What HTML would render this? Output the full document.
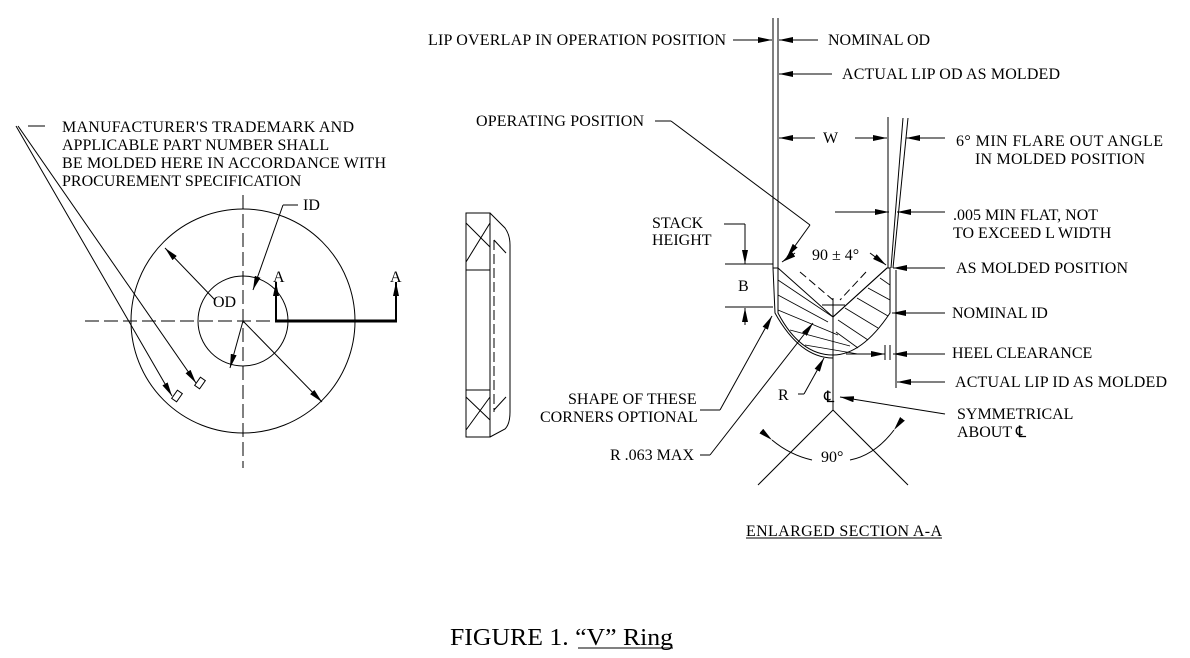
<!DOCTYPE html>
<html><head><meta charset="utf-8"><style>
html,body{margin:0;padding:0;background:#fff;}
svg{display:block;}
text{font-family:"Liberation Serif",serif;font-size:16px;fill:#000;}
</style></head><body>
<svg width="1190" height="658" viewBox="0 0 1190 658" xmlns="http://www.w3.org/2000/svg">
<defs>
<marker id="ar" viewBox="0 0 14 6" refX="14" refY="3" markerWidth="14" markerHeight="6" orient="auto" markerUnits="userSpaceOnUse"><path d="M0,0L14,3L0,6z" fill="#000"/></marker>
</defs>
<g stroke="#000" stroke-width="1" fill="none">
<circle cx="243" cy="321" r="112"/>
<circle cx="243" cy="321" r="45"/>
<line x1="85" y1="321" x2="275" y2="321" stroke-dasharray="14,5"/>
<line x1="243" y1="195" x2="243" y2="468" stroke-dasharray="14,5"/>
<line x1="275" y1="321" x2="397" y2="321" stroke-width="3"/>
<line x1="276" y1="321" x2="276" y2="282" stroke-width="2" marker-end="url(#ar)"/>
<line x1="396" y1="321" x2="396" y2="282" stroke-width="2" marker-end="url(#ar)"/>
<line x1="215" y1="300" x2="165" y2="248" marker-end="url(#ar)"/>
<line x1="243" y1="321" x2="322" y2="402" marker-end="url(#ar)"/>
<line x1="283" y1="205" x2="253" y2="290" marker-end="url(#ar)"/>
<line x1="243" y1="321" x2="230" y2="368" marker-end="url(#ar)"/>
<line x1="283" y1="205" x2="298" y2="205"/>
<line x1="28" y1="126" x2="45" y2="126"/>
<line x1="16" y1="126" x2="172" y2="396" marker-end="url(#ar)"/>
<line x1="18" y1="126" x2="196" y2="383" marker-end="url(#ar)"/>
<rect x="174" y="391" width="6" height="10" transform="rotate(35 177 396)"/>
<rect x="197" y="378" width="6" height="10" transform="rotate(35 200 383)"/>
<rect x="466" y="213" width="24" height="224"/>
<line x1="466" y1="270" x2="490" y2="270"/>
<line x1="466" y1="390" x2="490" y2="390"/>
<line x1="494" y1="240" x2="494" y2="412" stroke-dasharray="10,4"/>
<path d="M490,213 L505,228 Q510,235 510,245 L510,412 Q510,424 505,429 L490,437"/>
<line x1="466" y1="223" x2="490" y2="247"/><line x1="490" y1="223" x2="466" y2="262"/>
<line x1="466" y1="397" x2="490" y2="420"/><line x1="490" y1="397" x2="466" y2="430"/>
<line x1="494" y1="240" x2="506" y2="253"/><line x1="494" y1="410" x2="506" y2="397"/>
<line x1="773" y1="18" x2="773" y2="268"/>
<line x1="778" y1="18" x2="778" y2="268"/>
<line x1="733" y1="40" x2="772" y2="40" marker-end="url(#ar)"/>
<line x1="818" y1="40" x2="779" y2="40" marker-end="url(#ar)"/>
<line x1="832" y1="74" x2="779" y2="74" marker-end="url(#ar)"/>
<line x1="815" y1="138" x2="779" y2="138" marker-end="url(#ar)"/>
<line x1="855" y1="138" x2="887" y2="138" marker-end="url(#ar)"/>
<line x1="888" y1="117" x2="888" y2="268"/>
<line x1="908" y1="118" x2="893" y2="268"/>
<line x1="903" y1="118" x2="891" y2="268"/>
<line x1="945" y1="138" x2="906" y2="138" marker-end="url(#ar)"/>
<line x1="835" y1="212" x2="889" y2="212" marker-end="url(#ar)"/>
<line x1="945" y1="212" x2="897" y2="212" marker-end="url(#ar)"/>
<line x1="655" y1="121" x2="671" y2="121"/>
<line x1="671" y1="121" x2="810" y2="225"/>
<line x1="810" y1="225" x2="787" y2="257" marker-end="url(#ar)"/>
<path d="M773,268 L778,268 L778,313 Q800,355 833,355 Q862,355 890,313 L890,268 L887,268 L833,317 L778,268"/>
<path d="M773,268 L775,313 Q800,358 833,358"/>
<line x1="833" y1="317" x2="887" y2="268"/>
<g stroke-width="0.8">
<line x1="778" y1="280" x2="833" y2="317"/><line x1="778" y1="295" x2="828" y2="322"/>
<line x1="778" y1="310" x2="838" y2="335"/><line x1="790" y1="330" x2="850" y2="346"/>
<line x1="805" y1="345" x2="858" y2="354"/>
<line x1="880" y1="278" x2="890" y2="285"/><line x1="868" y1="288" x2="890" y2="300"/>
<line x1="857" y1="298" x2="888" y2="316"/><line x1="845" y1="308" x2="878" y2="328"/>
<line x1="838" y1="320" x2="868" y2="340"/><line x1="836" y1="332" x2="858" y2="348"/>
</g>
<line x1="800" y1="272" x2="833" y2="300" stroke-dasharray="8,4"/>
<line x1="866" y1="272" x2="840" y2="300" stroke-dasharray="8,4"/>
<line x1="833" y1="298" x2="833" y2="410"/>
<line x1="822" y1="305" x2="845" y2="305"/>
<line x1="724" y1="224" x2="745" y2="224"/>
<line x1="745" y1="224" x2="745" y2="264" marker-end="url(#ar)"/>
<line x1="725" y1="264" x2="773" y2="264"/>
<line x1="725" y1="307" x2="773" y2="307"/>
<line x1="745" y1="325" x2="745" y2="308" marker-end="url(#ar)"/>
<line x1="795" y1="253" x2="782" y2="262" marker-end="url(#ar)"/>
<line x1="870" y1="253" x2="886" y2="265" marker-end="url(#ar)"/>
<line x1="945" y1="268" x2="893" y2="268" marker-end="url(#ar)"/>
<line x1="896" y1="270" x2="896" y2="388"/>
<line x1="945" y1="313" x2="892" y2="313" marker-end="url(#ar)"/>
<line x1="846" y1="354" x2="885" y2="354" marker-end="url(#ar)"/>
<line x1="945" y1="354" x2="893" y2="354" marker-end="url(#ar)"/>
<line x1="885" y1="345" x2="885" y2="360"/><line x1="890" y1="345" x2="890" y2="360"/>
<line x1="945" y1="382" x2="897" y2="382" marker-end="url(#ar)"/>
<line x1="945" y1="414" x2="920" y2="410"/><line x1="920" y1="410" x2="840" y2="397" marker-end="url(#ar)"/>
<line x1="700" y1="410" x2="720" y2="410"/>
<line x1="720" y1="410" x2="772" y2="316" marker-end="url(#ar)"/>
<line x1="700" y1="455" x2="710" y2="455"/>
<line x1="710" y1="455" x2="813" y2="323" marker-end="url(#ar)"/>
<line x1="798" y1="394" x2="804" y2="394"/>
<line x1="804" y1="394" x2="824" y2="358" marker-end="url(#ar)"/>
<line x1="833" y1="410" x2="758" y2="485"/>
<line x1="833" y1="410" x2="908" y2="485"/>
<path d="M772,440 Q790,455 812,460" marker-start="url(#ar)"/>
<path d="M894,430 Q875,455 850,460" marker-start="url(#ar)"/>
<line x1="578" y1="648" x2="673" y2="648"/>
<line x1="746" y1="538" x2="942" y2="538"/>
</g>
<g>
<text x="62" y="132" textLength="292">MANUFACTURER'S TRADEMARK AND</text>
<text x="62" y="150">APPLICABLE PART NUMBER SHALL</text>
<text x="62" y="168" textLength="324">BE MOLDED HERE IN ACCORDANCE WITH</text>
<text x="62" y="186">PROCUREMENT SPECIFICATION</text>
<text x="303" y="210">ID</text>
<text x="213" y="307">OD</text>
<text x="273" y="282">A</text>
<text x="390" y="282">A</text>
<text x="428" y="45" textLength="298">LIP OVERLAP IN OPERATION POSITION</text>
<text x="828" y="45">NOMINAL OD</text>
<text x="842" y="79" textLength="218">ACTUAL LIP OD AS MOLDED</text>
<text x="476" y="126" textLength="168">OPERATING POSITION</text>
<text x="823" y="143">W</text>
<text x="956" y="146" textLength="207">6° MIN  FLARE OUT ANGLE</text>
<text x="975" y="164" textLength="170">IN MOLDED POSITION</text>
<text x="953" y="220">.005 MIN FLAT, NOT</text>
<text x="953" y="238">TO EXCEED L WIDTH</text>
<text x="652" y="228">STACK</text>
<text x="652" y="245">HEIGHT</text>
<text x="812" y="260">90 ± 4°</text>
<text x="738" y="291">B</text>
<text x="956" y="273" textLength="172">AS MOLDED POSITION</text>
<text x="952" y="318">NOMINAL ID</text>
<text x="952" y="358">HEEL CLEARANCE</text>
<text x="955" y="387" textLength="212">ACTUAL LIP ID AS MOLDED</text>
<text x="957" y="419">SYMMETRICAL</text>
<text x="957" y="437">ABOUT ℄</text>
<text x="568" y="404">SHAPE OF THESE</text>
<text x="540" y="422">CORNERS OPTIONAL</text>
<text x="610" y="460">R .063 MAX</text>
<text x="778" y="400">R</text>
<text x="824" y="402">℄</text>
<text x="821" y="462">90°</text>
<text x="746" y="536" textLength="196">ENLARGED SECTION  A-A</text>
<text x="450" y="645" style="font-size:24px" textLength="223" lengthAdjust="spacingAndGlyphs">FIGURE 1.  “V” Ring</text>
</g>
</svg>
</body></html>
